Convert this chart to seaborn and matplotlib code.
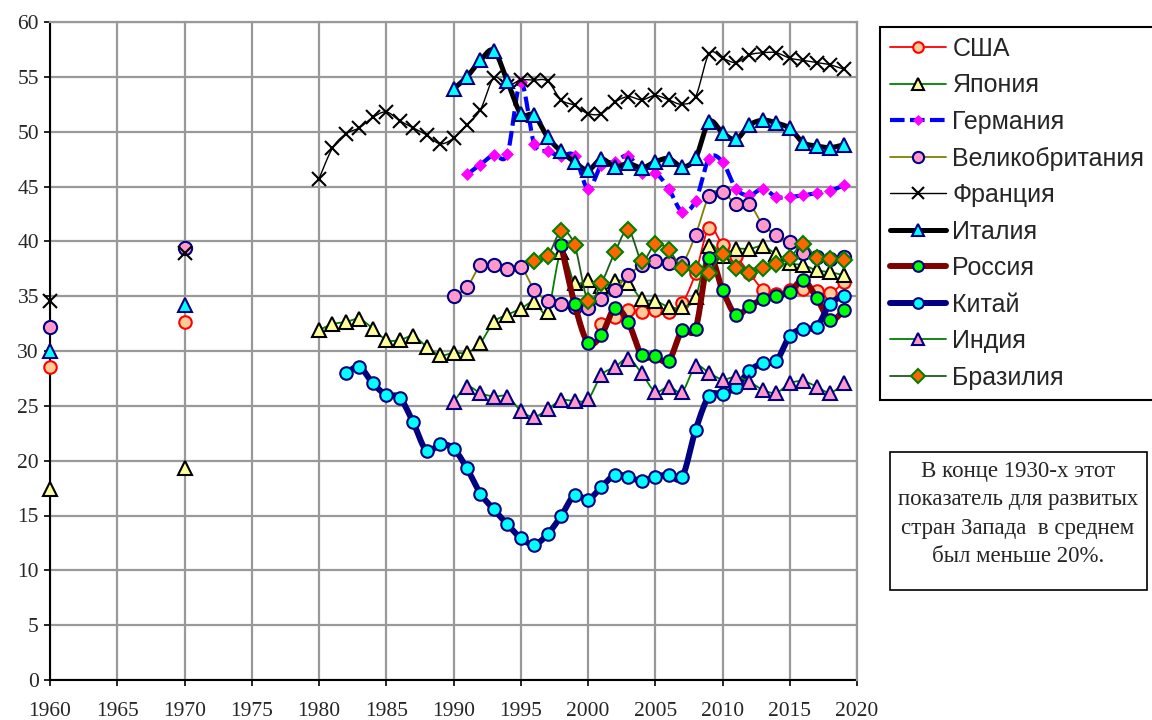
import numpy as np
import matplotlib
matplotlib.use("Agg")
import matplotlib.pyplot as plt
from matplotlib.lines import Line2D
from matplotlib.patches import Rectangle
import seaborn as sns

# ---- data (percent) ----
usa_years = [1960, 1970] + list(range(2001, 2020))
usa_vals = [28.5, 32.6,
            32.45, 33.1, 33.7, 33.55, 33.7, 33.55, 34.35, 37.1, 41.25,
            39.65, 38.65, 37.1, 35.6, 35.2, 35.6, 35.65, 35.5, 35.25, 36.3]

japan_years = [1960, 1970] + list(range(1980, 2020))
japan_vals = [17.4, 19.3,
              31.9, 32.45, 32.65, 32.9, 32.05, 31.0, 31.0, 31.35, 30.4, 29.6,
              29.85, 29.85, 30.75, 32.65, 33.3, 33.85, 34.5, 33.6, 39.05, 36.2,
              36.5, 35.95, 36.4, 36.2, 34.7, 34.6, 34.0, 34.0, 34.9, 39.55,
              38.65, 39.3, 39.3, 39.55, 38.8, 38.0, 37.85, 37.35, 37.2, 36.9]

germany_years = list(range(1991, 2020))
germany_vals = [46.1, 47.0, 47.9, 47.95, 54.5, 48.9, 48.2, 47.8, 47.8,
                44.8, 46.95, 47.25, 47.8, 46.25, 46.25, 44.8, 42.7, 43.7, 47.55,
                47.25, 44.8, 44.2, 44.8, 44.05, 44.05, 44.2, 44.4, 44.6, 45.1]

uk_years = [1960, 1970] + list(range(1990, 2020))
uk_vals = [32.2, 39.4,
           35.0, 35.8, 37.8, 37.8, 37.45, 37.7, 35.6, 34.6, 34.3, 34.0,
           33.9, 34.7, 35.6, 36.95, 37.8, 38.2, 38.05, 38.0, 40.6, 44.1,
           44.5, 43.4, 43.4, 41.5, 40.6, 39.9, 38.95, 38.55, 38.4, 38.6]

france_years = [1960, 1970] + list(range(1980, 2020))
france_vals = [34.6, 38.9,
               45.7, 48.5, 49.8, 50.35, 51.3, 51.8, 51.0, 50.35, 49.7, 48.9,
               49.4, 50.65, 52.0, 54.9, 54.2, 54.7, 54.7, 54.6, 52.9, 52.4,
               51.65, 51.65, 52.7, 53.2, 52.9, 53.3, 52.9, 52.5, 53.2, 57.1,
               56.7, 56.3, 57.0, 57.2, 57.2, 56.7, 56.5, 56.3, 56.1, 55.7]

italy_years = [1960, 1970] + list(range(1990, 2020))
italy_vals = [30.0, 34.2,
              53.9, 55.0, 56.5, 57.4, 54.6, 51.65, 51.5, 49.5, 48.2, 47.25,
              46.5, 47.5, 46.8, 47.1, 46.7, 47.25, 47.55, 46.8, 47.6, 50.9,
              49.9, 49.3, 50.6, 51.05, 50.8, 50.3, 49.0, 48.7, 48.55, 48.8]

russia_years = list(range(1998, 2020))
russia_vals = [39.65, 34.3,
               30.75, 31.45, 33.9, 32.6, 29.6, 29.5, 29.1, 31.9, 32.05, 38.5,
               35.55, 33.3, 34.1, 34.7, 35.0, 35.4, 36.45, 34.85, 32.8, 33.7]

china_years = list(range(1982, 2020))
china_vals = [27.95, 28.55, 27.05, 26.0, 25.75, 23.5, 20.9, 21.5,
              21.1, 19.3, 17.0, 15.55, 14.2, 12.95, 12.35, 13.3, 14.95, 16.85,
              16.45, 17.6, 18.7, 18.5, 18.15, 18.55, 18.7, 18.5, 22.8, 25.9,
              26.1, 26.7, 28.2, 28.9, 29.1, 31.35, 32.05, 32.2, 34.3, 35.0]

india_years = list(range(1990, 2020))
india_vals = [25.35, 26.75, 26.15, 25.85, 25.85, 24.55, 24.0, 24.7, 25.5, 25.45,
              25.6, 27.8, 28.55, 29.3, 27.95, 26.3, 26.75, 26.3, 28.6, 28.0,
              27.4, 27.65, 27.2, 26.45, 26.2, 27.05, 27.25, 26.75, 26.2, 27.05]

brazil_years = list(range(1996, 2020))
brazil_vals = [38.2, 38.65, 40.9, 39.65,
               34.6, 36.2, 39.0, 41.05, 38.25, 39.75, 39.2, 37.6, 37.5, 37.15,
               38.8, 37.55, 37.15, 37.55, 37.95, 38.45, 39.8, 38.45, 38.4, 38.3]

labels = ["США", "Япония", "Германия", "Великобритания", "Франция",
          "Италия", "Россия", "Китай", "Индия", "Бразилия"]

note_text = ("В конце 1930-х этот\nпоказатель для развитых\n"
             "стран Запада  в среднем\nбыл меньше 20%.")

# ---- styles ----
styles = [
    dict(years=usa_years, vals=usa_vals, lc="#FF0000", lw=1.3, ls="-",
         m="o", ms=9, mfc="#FFCC99", mec="#FF0000", mew=1.5),
    dict(years=japan_years, vals=japan_vals, lc="#008000", lw=1.3, ls="-",
         m="^", ms=10, mfc="#FFFF99", mec="#000000", mew=1.5),
    dict(years=germany_years, vals=germany_vals, lc="#0000FF", lw=3.0,
         ls=(0, (3.5, 1.3)), m="D", ms=6, mfc="#FF00FF", mec="#FF00FF", mew=0.5),
    dict(years=uk_years, vals=uk_vals, lc="#808000", lw=1.3, ls="-",
         m="o", ms=9.5, mfc="#FF99CC", mec="#000080", mew=1.5),
    dict(years=france_years, vals=france_vals, lc="#000000", lw=1.0, ls="-",
         m="x", ms=10, mfc="#000000", mec="#000000", mew=1.5),
    dict(years=italy_years, vals=italy_vals, lc="#000000", lw=3.6, ls="-",
         m="^", ms=10.5, mfc="#00FFFF", mec="#000080", mew=1.5),
    dict(years=russia_years, vals=russia_vals, lc="#800000", lw=4.3, ls="-",
         m="o", ms=9, mfc="#00FF00", mec="#000080", mew=1.5),
    dict(years=china_years, vals=china_vals, lc="#000080", lw=4.3, ls="-",
         m="o", ms=9, mfc="#00FFFF", mec="#000080", mew=1.5),
    dict(years=india_years, vals=india_vals, lc="#008000", lw=1.3, ls="-",
         m="^", ms=10, mfc="#FF99CC", mec="#000080", mew=1.5),
    dict(years=brazil_years, vals=brazil_vals, lc="#1E5A1E", lw=1.3, ls="-",
         m="D", ms=8, mfc="#FF6600", mec="#008000", mew=1.5),
]


def smooth_path(x, y, steps=16):
    """Cubic Bezier path through the points (spreadsheet-style smoothed line)."""
    x = np.asarray(x, float)
    y = np.asarray(y, float)
    n = len(x)
    if n < 2:
        return x, y
    px, py = [x[0]], [y[0]]
    t = np.linspace(0, 1, steps + 1)[1:]
    for i in range(n - 1):
        i0, i3 = max(i - 1, 0), min(i + 2, n - 1)
        p0 = np.array([x[i], y[i]])
        p3 = np.array([x[i + 1], y[i + 1]])
        c1 = p0 + (p3 - np.array([x[i0], y[i0]])) / 6.0
        c2 = p3 - (np.array([x[i3], y[i3]]) - p0) / 6.0
        b = ((1 - t) ** 3)[:, None] * p0 + (3 * (1 - t) ** 2 * t)[:, None] * c1 \
            + (3 * (1 - t) * t ** 2)[:, None] * c2 + (t ** 3)[:, None] * p3
        px.extend(b[:, 0])
        py.extend(b[:, 1])
    return np.array(px), np.array(py)


def segments(years, vals):
    """Split a series into runs of consecutive years."""
    runs, cur = [], [(years[0], vals[0])]
    for yr, v in zip(years[1:], vals[1:]):
        if yr - cur[-1][0] > 1:
            runs.append(cur)
            cur = []
        cur.append((yr, v))
    runs.append(cur)
    return runs


sns.set_theme(style="white")
plt.rcParams["font.family"] = ["Liberation Serif", "DejaVu Serif"]

fig = plt.figure(figsize=(11.52, 7.2), dpi=100)
ax = fig.add_axes([50 / 1152, 40 / 720, 807 / 1152, 658 / 720])

for k, st in enumerate(styles):
    z = 3 + 2 * k
    for run in segments(st["years"], st["vals"]):
        xs = [r[0] for r in run]
        ys = [r[1] for r in run]
        if len(run) > 1:
            sx, sy = smooth_path(xs, ys)
            ax.plot(sx, sy, color=st["lc"], lw=st["lw"], ls=st["ls"],
                    solid_capstyle="round", zorder=z)
    ax.plot(st["years"], st["vals"], ls="none", marker=st["m"], ms=st["ms"],
            mfc=st["mfc"], mec=st["mec"], mew=st["mew"], zorder=z + 1,
            clip_on=False)

ax.set_xlim(1960, 2020)
ax.set_ylim(0, 60)
ax.set_xticks(np.arange(1960, 2021, 5))
ax.set_yticks(np.arange(0, 61, 5))
ax.grid(True, color="#999999", lw=1.6, zorder=0)
ax.set_axisbelow(True)
for side in ("left", "bottom"):
    ax.spines[side].set_color("black")
    ax.spines[side].set_linewidth(1.5)
    ax.spines[side].set_zorder(2)
for side in ("top", "right"):
    ax.spines[side].set_color("#999999")
    ax.spines[side].set_linewidth(1.6)
ax.tick_params(axis="y", left=True, direction="out", length=4, width=1.2,
               color="black", labelsize=15.5, pad=4)
ax.tick_params(axis="x", bottom=True, direction="out", length=4, width=1.2,
               color="black", labelsize=15.5, pad=11.5)

# legend
handles = []
for st, lab in zip(styles, labels):
    handles.append(Line2D([], [], color=st["lc"], lw=st["lw"], ls=st["ls"],
                          marker=st["m"], ms=st["ms"] * 0.85, mfc=st["mfc"],
                          mec=st["mec"], mew=st["mew"], label=lab))
leg = fig.legend(handles=handles, loc="upper left",
                 bbox_to_anchor=(880 / 1152, 693 / 720),
                 prop={"family": "Liberation Sans", "size": 18},
                 frameon=True, fancybox=False, edgecolor="black",
                 framealpha=1, handlelength=2.25, handletextpad=0.25,
                 labelspacing=0.5, borderpad=0.4, borderaxespad=0)
leg.get_frame().set_linewidth(1.5)

# note box
fig.patches.append(Rectangle((890 / 1152, 130 / 720), 257 / 1152, 138 / 720,
                             transform=fig.transFigure, facecolor="white",
                             edgecolor="black", lw=1.2))
fig.text(1018 / 1152, 206 / 720, note_text, ha="center", va="center",
         fontsize=16.5, linespacing=1.45, family="Liberation Serif")

fig.savefig("out.png", dpi=100)
